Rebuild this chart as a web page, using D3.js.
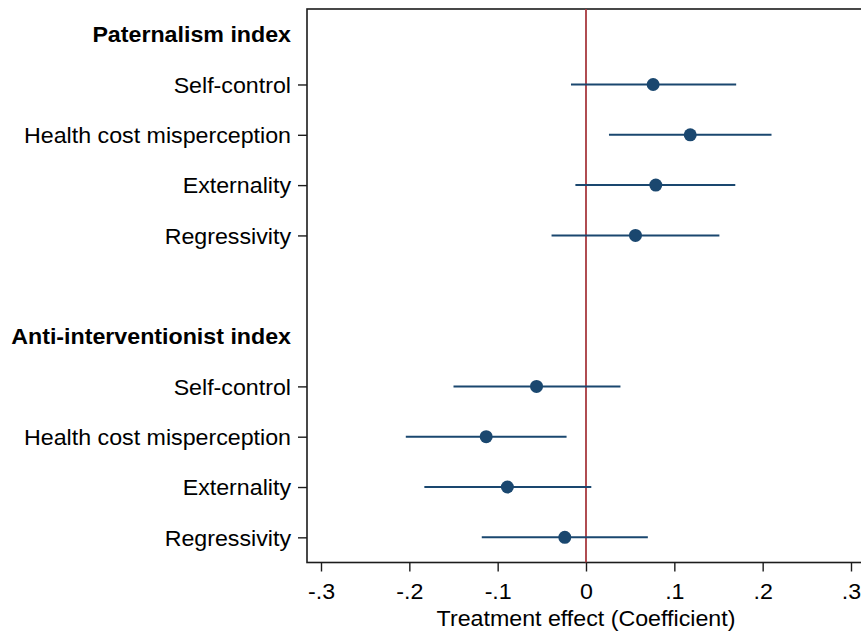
<!DOCTYPE html>
<html>
<head>
<meta charset="utf-8">
<script src="https://cdn.jsdelivr.net/npm/d3@7"></script>
<style>
  html, body { margin: 0; padding: 0; background: #fff; }
  svg { display: block; font-family: "Liberation Sans", Arial, sans-serif; }
</style>
</head>
<body>
<svg id="chart" width="861" height="631"></svg>
<script>
// Index groups and the outcome rows listed under each
const groupTitles = ["Paternalism index", "Anti-interventionist index"];
const outcomes = ["Self-control", "Health cost misperception", "Externality", "Regressivity"];

// Paternalism index: point estimates and 95% CI bounds
const paternalismCoef = [0.076, 0.118, 0.079, 0.056];
const paternalismLow  = [-0.017, 0.026, -0.012, -0.039];
const paternalismHigh = [0.170, 0.210, 0.169, 0.151];

// Anti-interventionist index: point estimates and 95% CI bounds
const antiCoef = [-0.056, -0.113, -0.089, -0.024];
const antiLow  = [-0.150, -0.204, -0.183, -0.118];
const antiHigh = [0.039, -0.022, 0.006, 0.070];

// Horizontal axis ticks
const xTickValues = [-0.3, -0.2, -0.1, 0, 0.1, 0.2, 0.3];
const xTickLabels = ["-.3", "-.2", "-.1", "0", ".1", ".2", ".3"];
const xTitle = "Treatment effect (Coefficient)";

// Build the row layout: header, four outcomes, spacer, header, four outcomes
const series = [
  { coef: paternalismCoef, low: paternalismLow, high: paternalismHigh },
  { coef: antiCoef, low: antiLow, high: antiHigh }
];
const slots = [];
const estimates = [];
groupTitles.forEach((g, gi) => {
  slots.push({ key: "h" + gi, label: g, header: true });
  outcomes.forEach((o, oi) => {
    const key = "r" + gi + "_" + oi;
    slots.push({ key, label: o, header: false });
    estimates.push({ key, coef: series[gi].coef[oi], low: series[gi].low[oi], high: series[gi].high[oi] });
  });
  if (gi < groupTitles.length - 1) slots.push({ key: "gap" + gi, label: "", header: false, blank: true });
});

const plot = { left: 307, right: 865, top: 9, bottom: 562.5 };
const navy = "#1a476f";
const refColor = "#a8393f";
const fontSize = 21.5;
const stretch = "scale(1.08,1)";

const svg = d3.select("#chart");

const x = d3.scaleLinear().domain([-0.3, 0.3]).range([321, 851]);
const y = d3.scalePoint()
  .domain(slots.map(s => s.key))
  .range([plot.top, plot.bottom])
  .padding(0.5);

// Plot region outline
svg.append("rect")
  .attr("x", plot.left).attr("y", plot.top)
  .attr("width", plot.right - plot.left).attr("height", plot.bottom - plot.top)
  .attr("fill", "none").attr("stroke", "#1c1c1c").attr("stroke-width", 1.6);

// Zero reference line
svg.append("line")
  .attr("x1", x(0)).attr("x2", x(0))
  .attr("y1", plot.top).attr("y2", plot.bottom)
  .attr("stroke", refColor).attr("stroke-width", 1.8);

// Bottom axis
const xAxis = svg.append("g")
  .attr("transform", `translate(0,${plot.bottom})`)
  .call(d3.axisBottom(x)
    .tickValues(xTickValues)
    .tickFormat((d, i) => xTickLabels[i])
    .tickSize(9)
    .tickSizeOuter(0));
xAxis.select(".domain").remove();
xAxis.selectAll(".tick line").attr("stroke", "#1c1c1c").attr("stroke-width", 1.4);
xAxis.selectAll(".tick text")
  .attr("y", 37).attr("dy", 0)
  .attr("transform", stretch)
  .attr("font-size", fontSize).attr("fill", "#000")
  .attr("font-family", "'Liberation Sans', Arial, sans-serif");

svg.append("text")
  .attr("transform", `translate(${x(0)},626) ${stretch}`)
  .attr("text-anchor", "middle")
  .attr("font-size", fontSize)
  .text(xTitle);

// Left axis: ticks only on outcome rows
const rowKeys = slots.filter(s => !s.header && !s.blank).map(s => s.key);
const labelOf = new Map(slots.map(s => [s.key, s.label]));
const yAxis = svg.append("g")
  .attr("transform", `translate(${plot.left},0)`)
  .call(d3.axisLeft(y)
    .tickValues(rowKeys)
    .tickFormat(k => labelOf.get(k))
    .tickSize(9)
    .tickSizeOuter(0));
yAxis.select(".domain").remove();
yAxis.selectAll(".tick line").attr("stroke", "#1c1c1c").attr("stroke-width", 1.4);
yAxis.selectAll(".tick text")
  .attr("x", 0).attr("dy", "0.36em")
  .attr("transform", `translate(-16,0) ${stretch}`)
  .attr("font-size", fontSize).attr("fill", "#000")
  .attr("font-family", "'Liberation Sans', Arial, sans-serif");

// Group headers
svg.selectAll("text.header")
  .data(slots.filter(s => s.header))
  .join("text")
  .attr("class", "header")
  .attr("transform", d => `translate(${plot.left - 16},${y(d.key)}) ${stretch}`)
  .attr("dy", "0.36em")
  .attr("text-anchor", "end")
  .attr("font-size", fontSize)
  .attr("font-weight", "bold")
  .text(d => d.label);

// Confidence intervals
svg.selectAll("line.ci")
  .data(estimates)
  .join("line")
  .attr("class", "ci")
  .attr("x1", d => x(d.low)).attr("x2", d => x(d.high))
  .attr("y1", d => y(d.key)).attr("y2", d => y(d.key))
  .attr("stroke", navy).attr("stroke-width", 2);

// Point estimates
svg.selectAll("circle.est")
  .data(estimates)
  .join("circle")
  .attr("class", "est")
  .attr("cx", d => x(d.coef))
  .attr("cy", d => y(d.key))
  .attr("r", 6.5)
  .attr("fill", navy);
</script>
</body>
</html>
